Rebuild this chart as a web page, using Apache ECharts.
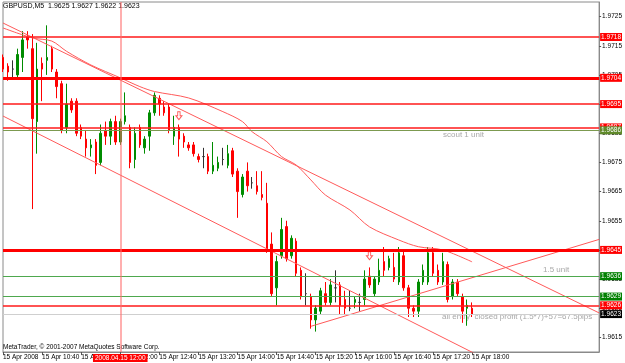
<!DOCTYPE html>
<html><head><meta charset="utf-8">
<script src="https://cdn.jsdelivr.net/npm/echarts/dist/echarts.min.js"></script>
<style>html,body{margin:0;padding:0;background:#fff}#c{width:625px;height:363px}</style>
</head><body><div id="c"></div>
<script>
// ---- bar data (GBPUSD M5, 15 Apr 2008, 10:00 .. 18:00) ----
const opens  = [1.9711,1.9708,1.9707,1.9705,1.9711,1.9718,1.9714,1.9689,1.9709,1.9710,
                1.9714,1.9706,1.9702,1.9687,1.9696,1.9696,1.9687,1.9683,1.9680,1.9682,
                1.9675,1.9686,1.9684,1.9689,1.9682,1.9689,1.9687,1.9676,1.9687,1.9680,
                1.9684,1.9692,1.9697,1.9694,1.9694,1.9684,1.9687,1.9684,1.9681,1.9681,
                1.9677,1.9677,1.9677,1.9672,1.9673,1.9676,1.9674,1.9679,1.9672,1.9664,
                1.9672,1.9668,1.9667,1.9664,1.9661,1.9647,1.9632,1.9643,1.9653,1.9643,
                1.9648,1.9638,1.9630,1.9629,1.9621,1.9624,1.9630,1.9627,1.9632,1.9633,
                1.9628,1.9625,1.9627,1.9627,1.9628,1.9636,1.9630,1.9634,1.9641,1.9639,
                1.9639,1.9634,1.9643,1.9632,1.9625,1.9624,1.9634,1.9634,1.9644,1.9638,
                1.9634,1.9640,1.9629,1.9634,1.9629,1.9625,1.9625];
const highs  = [1.9712,1.9709,1.9710,1.9714,1.9720,1.9720,1.9719,1.9716,1.9711,1.9722,
                1.9715,1.9707,1.9703,1.9702,1.9697,1.9697,1.9688,1.9686,1.9683,1.9683,
                1.9688,1.9689,1.9690,1.9691,1.9690,1.9699,1.9688,1.9687,1.9688,1.9684,
                1.9693,1.9699,1.9698,1.9696,1.9695,1.9691,1.9688,1.9685,1.9682,1.9682,
                1.9678,1.9680,1.9678,1.9682,1.9677,1.9680,1.9681,1.9680,1.9673,1.9671,
                1.9675,1.9670,1.9672,1.9672,1.9668,1.9651,1.9643,1.9656,1.9655,1.9650,
                1.9649,1.9639,1.9637,1.9630,1.9626,1.9632,1.9634,1.9635,1.9638,1.9634,
                1.9631,1.9631,1.9629,1.9630,1.9638,1.9639,1.9636,1.9642,1.9646,1.9643,
                1.9644,1.9646,1.9645,1.9633,1.9626,1.9635,1.9640,1.9646,1.9646,1.9640,
                1.9644,1.9641,1.9635,1.9635,1.9630,1.9628,1.9627];
const lows   = [1.9706,1.9703,1.9704,1.9704,1.9706,1.9714,1.9659,1.9678,1.9696,1.9705,
                1.9706,1.9697,1.9685,1.9685,1.9692,1.9684,1.9683,1.9677,1.9677,1.9671,
                1.9674,1.9681,1.9681,1.9681,1.9681,1.9688,1.9673,1.9673,1.9680,1.9678,
                1.9679,1.9691,1.9691,1.9691,1.9685,1.9681,1.9677,1.9680,1.9679,1.9677,
                1.9675,1.9673,1.9671,1.9671,1.9672,1.9674,1.9673,1.9670,1.9656,1.9663,
                1.9665,1.9666,1.9664,1.9662,1.9644,1.9629,1.9626,1.9642,1.9641,1.9642,
                1.9636,1.9628,1.9626,1.9618,1.9617,1.9623,1.9626,1.9626,1.9627,1.9623,
                1.9623,1.9624,1.9625,1.9624,1.9626,1.9632,1.9629,1.9633,1.9636,1.9638,
                1.9634,1.9633,1.9631,1.9622,1.9622,1.9622,1.9633,1.9633,1.9636,1.9633,
                1.9633,1.9627,1.9628,1.9629,1.9620,1.9619,1.9622];
const closes = [1.9707,1.9706,1.9707,1.9712,1.9717,1.9717,1.9690,1.9707,1.9707,1.9711,
                1.9707,1.9701,1.9686,1.9695,1.9693,1.9685,1.9684,1.9680,1.9681,1.9674,
                1.9685,1.9684,1.9689,1.9682,1.9689,1.9691,1.9675,1.9685,1.9681,1.9683,
                1.9692,1.9698,1.9695,1.9692,1.9686,1.9687,1.9683,1.9682,1.9680,1.9678,
                1.9676,1.9677,1.9672,1.9674,1.9675,1.9676,1.9678,1.9671,1.9665,1.9670,
                1.9667,1.9668,1.9665,1.9663,1.9645,1.9630,1.9641,1.9652,1.9642,1.9649,
                1.9637,1.9629,1.9630,1.9621,1.9625,1.9631,1.9627,1.9633,1.9632,1.9626,
                1.9625,1.9625,1.9628,1.9627,1.9635,1.9633,1.9635,1.9638,1.9638,1.9642,
                1.9635,1.9644,1.9632,1.9625,1.9624,1.9634,1.9638,1.9644,1.9637,1.9634,
                1.9641,1.9628,1.9634,1.9630,1.9624,1.9626,1.9623];

// time slots (5 min bars from 10:00; right part is the empty chart shift)
const firstMinute = 600, stepMinutes = 5, slotCount = 123;
// x axis tick labels
const xTickTimes  = ['10:00','10:40','11:20','12:00','12:40','13:20','14:00','14:40','15:20','16:00','16:40','17:20','18:00'];
const xTickLabels = ['15 Apr 2008','15 Apr 10:40','15 Apr 11:20','15 Apr 12:00','15 Apr 12:40','15 Apr 13:20','15 Apr 14:00','15 Apr 14:40','15 Apr 15:20','15 Apr 16:00','15 Apr 16:40','15 Apr 17:20','15 Apr 18:00'];
// y axis tick labels
const yTicks = [1.9615,1.9625,1.9635,1.9645,1.9655,1.9665,1.9675,1.9685,1.9695,1.9705,1.9715,1.9725];

// horizontal price lines: value, kind
const hLineValues = [1.9718,1.9704,1.9695,1.9687,1.9686,1.9645,1.9636,1.9629,1.9626,1.9623];
const hLineKinds  = ['red','redThick','red','red','olive','redThick','green','green','red','bid'];

// vertical line
const vLineTime = '12:00';
const vLineLabel = '2008.04.15 12:00';

// trend lines: [slotIndex, price] endpoints
const trendA = [[0,1.97228],[122,1.96234]];
const trendC = [[0,1.96909],[122,1.95880]];
const trendE = [[63,1.96188],[122,1.96486]];
// moving average points
const maPoints = [[0,1.97211],[6,1.97177],[10,1.97166],[13,1.97131],[18,1.97084],[24,1.97040],
  [28,1.97010],[31,1.96993],[38,1.96971],[45,1.96924],[49,1.96890],[51,1.96855],[54,1.96821],
  [57,1.96770],[60,1.96741],[63,1.96690],[66,1.96638],[71,1.96587],[75,1.96529],[81,1.96484],
  [85,1.96461],[90,1.96450],[96,1.96409]];
// sell arrows
const arrowPoints = [[36,1.9691],[75,1.9643]];

const categories = [];
for (let i = 0; i < slotCount; i++) {
  const m = firstMinute + stepMinutes * i;
  categories.push(String(Math.floor(m / 60)).padStart(2, '0') + ':' + String(m % 60).padStart(2, '0'));
}
const labelMap = {};
xTickTimes.forEach((t, i) => labelMap[t] = xTickLabels[i]);
const showTick = (idx) => labelMap[categories[idx]] !== undefined;

const FONT = 'Liberation Sans';
const kindStyle = {
  red:      {line:{color:'#ff1a1a', width:1.6}, bg:'#ff0000'},
  redThick: {line:{color:'#ff0000', width:3},   bg:'#ff0000'},
  olive:    {line:{color:'#7c9a50', width:1},   bg:'#5f8a2a'},
  green:    {line:{color:'#4ea84e', width:1},   bg:'#008000'},
  bid:      {line:{color:'#cfcfcf', width:1},   bg:'#000000'}
};
const hMarkData = hLineValues.map((v, i) => {
  const s = kindStyle[hLineKinds[i]];
  return {
    yAxis: v,
    lineStyle: Object.assign({type:'solid'}, s.line),
    label: {show:true, position:'end', distance:1, formatter: v.toFixed(4),
            backgroundColor: s.bg, color:'#fff', fontSize:6.5, fontFamily:FONT,
            padding:[1,1,0,1]}
  };
});
const vMarkData = [{
  xAxis: vLineTime,
  lineStyle: {color:'rgba(255,110,110,0.55)', width:2, type:'solid'},
  label: {show:true, position:'start', distance:2, formatter: vLineLabel,
          backgroundColor:'#ff0000', color:'#fff', fontSize:6.5, fontFamily:FONT, padding:[1,2,0,2]}
}];

const trendStyle = {color:'#ff5a5a', width:1};
const lineSeries = (data, smooth, marks) => {
  const s = {type:'line', data, symbol:'none', smooth: smooth || false, clip:true,
    lineStyle: trendStyle, silent:true, z:3};
  if (marks) s.markLine = {silent:true, symbol:['none','none'], precision:4, animation:false, data:marks};
  return s;
};

const chart = echarts.init(document.getElementById('c'), null, {renderer:'canvas', width:625, height:363});
chart.setOption({
  animation:false,
  backgroundColor:'#ffffff',
  grid:{left:2, top:2, right:23, bottom:11, show:true, borderColor:'#8a8a8a', borderWidth:1, backgroundColor:'#ffffff'},
  xAxis:{
    type:'category', data:categories, boundaryGap:false,
    axisLine:{lineStyle:{color:'#8a8a8a', width:1}},
    axisTick:{show:true, interval:showTick, length:3, lineStyle:{color:'#555'}},
    axisLabel:{interval:showTick, formatter:(v)=>labelMap[v] || '', align:'left',
               fontSize:6.5, fontFamily:FONT, color:'#000', margin:2},
    splitLine:{show:false}
  },
  yAxis:{
    type:'value', position:'right', min:1.9610, max:1.9730, scale:true,
    axisLine:{show:true, lineStyle:{color:'#8a8a8a', width:1}},
    axisTick:{show:true, customValues:yTicks, length:2, lineStyle:{color:'#555'}},
    axisLabel:{customValues:yTicks, formatter:(v)=>v.toFixed(4), fontSize:6.5, fontFamily:FONT, color:'#000', margin:3},
    splitLine:{show:false}
  },
  graphic:[
    {type:'text', left:3, top:3, style:{text:'GBPUSD,M5  1.9625 1.9627 1.9622 1.9623', fontSize:7, fontFamily:FONT, fill:'#000'}},
    {type:'text', left:3, top:344, style:{text:'MetaTrader, \u00a9 2001-2007 MetaQuotes Software Corp.', fontSize:6.5, fontFamily:FONT, fill:'#000'}},
    {type:'text', left:443, top:131, style:{text:'scout 1 unit', fontSize:8, fontFamily:FONT, fill:'#a8a8a8'}},
    {type:'text', left:543, top:266, style:{text:'1.5 unit', fontSize:8, fontFamily:FONT, fill:'#a8a8a8'}},
    {type:'text', left:442, top:313, style:{text:'all entry  closed profit (1.5*7)+57=67.5pips', fontSize:8, fontFamily:FONT, fill:'#a8a8a8'}}
  ],
  series:[
    {
      type:'candlestick', barWidth:2, clip:true,
      data: opens.map((o, i) => [o, closes[i], lows[i], highs[i]]),
      itemStyle:{color:'#008c00', color0:'#ff0000', borderColor:'#008c00', borderColor0:'#ff0000',
                 borderColorDoji:'#303030', borderWidth:1}
    },
    lineSeries(trendA, false, hMarkData), lineSeries(trendC, false, vMarkData), lineSeries(trendE), lineSeries(maPoints, 0.3),
    {
      type:'scatter', data:arrowPoints, silent:true, z:4,
      symbol:'path://M3,0 L7,0 L7,6 L10,6 L5,12 L0,6 L3,6 Z', symbolSize:[6,8],
      itemStyle:{color:'#ffffff', borderColor:'#ff3030', borderWidth:1}
    }
  ]
});
</script></body></html>
